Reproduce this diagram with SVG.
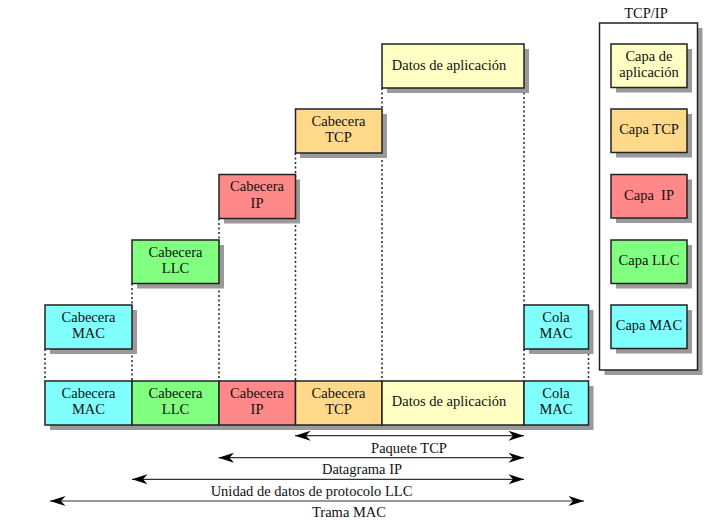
<svg xmlns="http://www.w3.org/2000/svg" width="719" height="523" viewBox="0 0 719 523">
<style>
.box{stroke:#222;stroke-width:1.5}
.sh{fill:#9a9a9a}
.mac{fill:#80ffff}
.llc{fill:#80ff80}
.ip{fill:#ff8888}
.tcp{fill:#ffd98a}
.app{fill:#ffffc4}
text{font-family:"Liberation Serif","Times New Roman",serif;font-size:14.5px;fill:#111;text-anchor:middle;white-space:pre}
.dot{stroke:#222;stroke-width:1.5;stroke-dasharray:2 2.5;fill:none}
.arr{stroke:#333;stroke-width:1.2;fill:none;marker-start:url(#ah);marker-end:url(#ah)}
</style>
<defs>
<marker id="ah" markerUnits="userSpaceOnUse" viewBox="-16 -5.5 17 11" refX="0" refY="0" markerWidth="17" markerHeight="11" orient="auto-start-reverse">
<path d="M0,0 L-15.5,-5 L-11,0 L-15.5,5 Z" fill="#000"/>
</marker>
</defs>
<rect width="719" height="523" fill="#fff"/>

<g id="connectors">
<line class="dot" x1="45" y1="349" x2="45" y2="381"/>
<line class="dot" x1="132" y1="283.5" x2="132" y2="381"/>
<line class="dot" x1="219" y1="218.5" x2="219" y2="381"/>
<line class="dot" x1="295.5" y1="153" x2="295.5" y2="381"/>
<line class="dot" x1="382" y1="88" x2="382" y2="381"/>
<line class="dot" x1="524" y1="88" x2="524" y2="305"/>
<line class="dot" x1="524" y1="349" x2="524" y2="381"/>
<line class="dot" x1="588.5" y1="349" x2="588.5" y2="381"/>
<line class="arr" x1="295" y1="435.7" x2="524" y2="435.7"/>
<line class="arr" x1="218.5" y1="457.7" x2="524" y2="457.7"/>
<line class="arr" x1="132" y1="479.3" x2="524" y2="479.3"/>
<line class="arr" x1="50" y1="501" x2="584" y2="501"/>
<text x="409" y="452.5">Paquete TCP</text>
<text x="362" y="473.5">Datagrama IP</text>
<text x="311.5" y="495.5">Unidad de datos de protocolo LLC</text>
<text x="349" y="517">Trama MAC</text>
</g>

<g id="datos-top">
<rect class="sh" x="387" y="49" width="142" height="44"/>
<rect class="box app" x="382" y="44" width="142" height="44"/>
<text x="449" y="69.5">Datos de aplicación</text>
</g>
<g id="cab-tcp-top">
<rect class="sh" x="300" y="114" width="87" height="44"/>
<rect class="box tcp" x="295.5" y="109" width="86.5" height="44"/>
<text x="338.5" y="125.5">Cabecera</text>
<text x="338.5" y="142">TCP</text>
</g>
<g id="cab-ip-top">
<rect class="sh" x="224" y="179.5" width="76" height="44"/>
<rect class="box ip" x="219" y="174.5" width="76.5" height="44"/>
<text x="257" y="191">Cabecera</text>
<text x="257" y="207.5">IP</text>
</g>
<g id="cab-llc-top">
<rect class="sh" x="137" y="245" width="87" height="43.5"/>
<rect class="box llc" x="132" y="240" width="87" height="43.5"/>
<text x="175.5" y="256.5">Cabecera</text>
<text x="175.5" y="273">LLC</text>
</g>
<g id="cab-mac-top">
<rect class="sh" x="50" y="310" width="87" height="44"/>
<rect class="box mac" x="45" y="305" width="87" height="44"/>
<text x="88.5" y="321.5">Cabecera</text>
<text x="88.5" y="338">MAC</text>
</g>
<g id="cola-mac-top">
<rect class="sh" x="529" y="310" width="64.5" height="44"/>
<rect class="box mac" x="524" y="305" width="64.5" height="44"/>
<text x="556" y="321.5">Cola</text>
<text x="556" y="338">MAC</text>
</g>

<g id="frame-row">
<rect class="sh" x="50" y="386" width="543.5" height="44"/>
<g id="row-cab-mac">
<rect class="box mac" x="45" y="381" width="87" height="44"/>
<text x="88.5" y="397.5">Cabecera</text>
<text x="88.5" y="414">MAC</text>
</g>
<g id="row-cab-llc">
<rect class="box llc" x="132" y="381" width="87" height="44"/>
<text x="175.5" y="397.5">Cabecera</text>
<text x="175.5" y="414">LLC</text>
</g>
<g id="row-cab-ip">
<rect class="box ip" x="219" y="381" width="76.5" height="44"/>
<text x="257" y="397.5">Cabecera</text>
<text x="257" y="414">IP</text>
</g>
<g id="row-cab-tcp">
<rect class="box tcp" x="295.5" y="381" width="86.5" height="44"/>
<text x="338.5" y="397.5">Cabecera</text>
<text x="338.5" y="414">TCP</text>
</g>
<g id="row-datos">
<rect class="box app" x="382" y="381" width="142" height="44"/>
<text x="449" y="406">Datos de aplicación</text>
</g>
<g id="row-cola-mac">
<rect class="box mac" x="524" y="381" width="64.5" height="44"/>
<text x="556" y="397.5">Cola</text>
<text x="556" y="414">MAC</text>
</g>
</g>

<g id="tcpip-stack">
<text x="646" y="18">TCP/IP</text>
<rect class="sh" x="604.5" y="28" width="98" height="347"/>
<rect class="box" fill="#fff" x="599.5" y="23" width="98" height="347"/>
<g id="capa-app">
<rect class="sh" x="616" y="49" width="76" height="43.5"/>
<rect class="box app" x="611" y="44" width="76" height="43.5"/>
<text x="649" y="60.5">Capa de</text>
<text x="649" y="77">aplicación</text>
</g>
<g id="capa-tcp">
<rect class="sh" x="616" y="114" width="76" height="43.5"/>
<rect class="box tcp" x="611" y="109" width="76" height="43.5"/>
<text x="649" y="134">Capa TCP</text>
</g>
<g id="capa-ip">
<rect class="sh" x="616" y="179.5" width="76" height="43.5"/>
<rect class="box ip" x="611" y="174.5" width="76" height="43.5"/>
<text x="649" y="199.5">Capa  IP</text>
</g>
<g id="capa-llc">
<rect class="sh" x="616" y="245" width="76" height="43.5"/>
<rect class="box llc" x="611" y="240" width="76" height="43.5"/>
<text x="649" y="265">Capa LLC</text>
</g>
<g id="capa-mac">
<rect class="sh" x="616" y="310" width="76" height="43.5"/>
<rect class="box mac" x="611" y="305" width="76" height="43.5"/>
<text x="649" y="330">Capa MAC</text>
</g>
</g>
</svg>
